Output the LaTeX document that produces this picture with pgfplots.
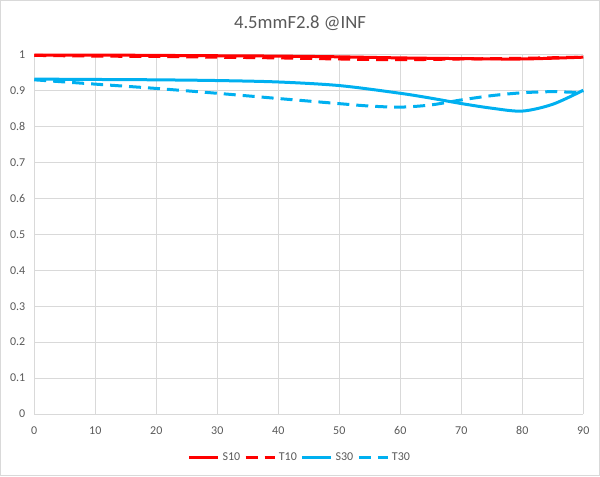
\documentclass[border=0pt]{standalone}
\usepackage{pgfplots}
\pgfplotsset{compat=1.18}
\usepackage{fontspec}
\setmainfont{Carlito}
\definecolor{txtgray}{HTML}{595959}
\definecolor{gridgray}{HTML}{D9D9D9}
\definecolor{sred}{HTML}{FF0000}
\definecolor{sblue}{HTML}{00B0F0}
\begin{document}
\begin{tikzpicture}
\useasboundingbox (0,0) rectangle (450pt,357pt);
\draw[gridgray,line width=0.75pt] (0.375pt,0.375pt) rectangle (449.625pt,356.625pt);
\node[font=\fontsize{14}{16}\selectfont,text=txtgray] at (225pt,339.5pt) {4.5mmF2.8 @INF};
\begin{axis}[
  at={(25.7pt,46.5pt)}, anchor=south west,
  scale only axis, width=411.75pt, height=269.5pt,
  xmin=0, xmax=90, ymin=0, ymax=1,
  xtick={0,10,...,90},
  ytick={0,0.1,...,1.0},
  yticklabels={0,0.1,0.2,0.3,0.4,0.5,0.6,0.7,0.8,0.9,1},
  grid=major,
  major grid style={gridgray,line width=0.75pt},
  axis line style={draw=none},
  major tick length=0pt,
  tick label style={font=\fontsize{9}{11}\selectfont,text=txtgray},
  xticklabel style={yshift=-5.8pt},
  yticklabel style={xshift=-3.2pt},
  /pgf/number format/assume math mode=true,
  legend columns=-1,
  legend style={draw=none,fill=none,at={(0.4845,-0.1215)},anchor=center,
    font=\fontsize{9}{11}\selectfont,text=txtgray,
    /tikz/every even column/.append style={column sep=1pt},
    inner sep=0pt, nodes={inner sep=2pt}},
  legend image code/.code={\draw[#1] (0pt,0pt) -- (21.75pt,0pt);},
  clip=false,
]
\addplot[sred,line width=2.25pt,smooth] coordinates {
(0,0.999)(10,0.999)(20,0.998)(30,0.997)(40,0.996)(50,0.994)(60,0.991)(70,0.989)(80,0.988)(90,0.993)};
\addlegendentry{S10}
\addplot[sred,line width=2.25pt,smooth,dash pattern=on 9pt off 5.25pt] coordinates {
(0,0.998)(10,0.996)(20,0.995)(30,0.993)(40,0.991)(50,0.988)(60,0.986)(70,0.988)(80,0.990)(90,0.993)};
\addlegendentry{T10}
\addplot[sblue,line width=2.25pt,smooth] coordinates {
(0,0.932)(10,0.931)(20,0.930)(30,0.928)(40,0.924)(50,0.914)(60,0.8925)(65,0.879)(70,0.864)(75,0.851)(80,0.843)(85,0.862)(90,0.901)};
\addlegendentry{S30}
\addplot[sblue,line width=2.25pt,smooth,dash pattern=on 9pt off 5.25pt] coordinates {
(0,0.930)(10,0.918)(20,0.906)(30,0.8925)(40,0.878)(50,0.8637)(55,0.857)(60,0.854)(65,0.860)(70,0.874)(75,0.886)(80,0.894)(85,0.897)(90,0.894)};
\addlegendentry{T30}
\end{axis}
\end{tikzpicture}
\end{document}
